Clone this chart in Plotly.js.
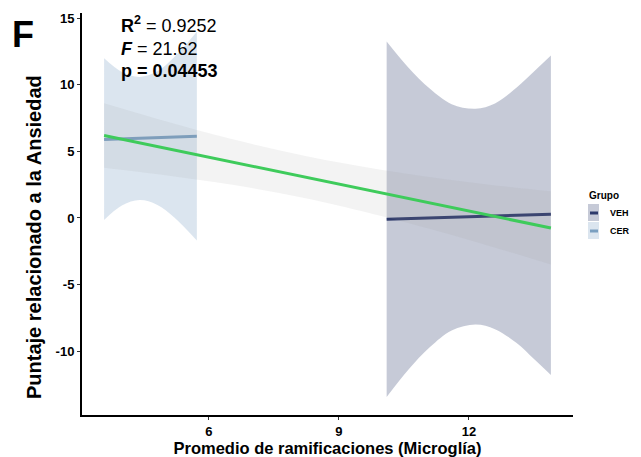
<!DOCTYPE html>
<html>
<head>
<meta charset="utf-8">
<script src="https://cdn.plot.ly/plotly-3.0.1.min.js"></script>
<style>html,body{margin:0;padding:0;background:#fff;}#chart{width:641px;height:457px;}</style>
</head>
<body>
<div id="chart"></div>
<script>
// ---- data ----
// overall fit (green) and its confidence band
const allX     = [3.58, 5.0, 6.5, 8.2, 10.0, 11.5, 13.0, 13.89];
const allFit   = [6.20, 5.24, 4.23, 3.09, 1.87, 0.86, -0.15, -0.75];
const allUpper = [8.62, 7.27, 5.95, 4.67, 3.60, 2.90, 2.31, 2.00];
const allLower = [3.78, 3.21, 2.51, 1.51, 0.14, -1.18, -2.61, -3.50];

// group CER
const cerX     = [3.58, 4.0, 4.4, 4.8, 5.2, 5.72];
const cerFit   = [5.90, 5.95, 6.00, 6.03, 6.06, 6.15];
const cerUpper = [12.0, 10.95, 10.6, 11.0, 12.1, 14.0];
const cerLower = [-0.15, 0.95, 1.35, 1.0, 0.03, -1.70];

// group VEH
const vehX     = [10.1, 10.6, 11.1, 11.6, 12.15, 12.6, 13.1, 13.5, 13.89];
const vehFit   = [-0.10, -0.05, 0.00, 0.05, 0.10, 0.15, 0.20, 0.24, 0.28];
const vehUpper = [13.25, 11.3, 9.7, 8.55, 8.2, 8.6, 9.8, 11.0, 12.2];
const vehLower = [-13.45, -11.4, -9.7, -8.45, -8.0, -8.35, -9.4, -10.6, -11.8];

const groups = ["VEH", "CER"];
const statLines = ["<b>R<sup>2</sup></b> = 0.9252", "<b><i>F</i></b> = 21.62", "<b>p = 0.04453</b>"];
const xTicks = [6, 9, 12];
const yTicks = [-10, -5, 0, 5, 10, 15];

// ---- styles ----
const FONT = "Liberation Sans, Arial, Helvetica, sans-serif";
const colVEH = "#2e3a6b", fillVEH = "rgba(46,58,106,0.27)";
const colCER = "#7a9fc0", fillCER = "rgba(122,160,195,0.27)";
const colAll = "#3ecb5b", fillAll = "rgba(153,153,153,0.12)";

function band(x, lo, hi, fill) {
  return [
    {x: x, y: lo, type: "scatter", mode: "lines", line: {width: 0, shape: "spline"}, hoverinfo: "skip", showlegend: false},
    {x: x, y: hi, type: "scatter", mode: "lines", line: {width: 0, shape: "spline"}, fill: "tonexty", fillcolor: fill, hoverinfo: "skip", showlegend: false}
  ];
}

const traces = [].concat(
  band(vehX, vehLower, vehUpper, fillVEH),
  band(cerX, cerLower, cerUpper, fillCER),
  [
    {x: vehX, y: vehFit, type: "scatter", mode: "lines", name: groups[0], line: {color: colVEH, width: 3}, showlegend: false},
    {x: cerX, y: cerFit, type: "scatter", mode: "lines", name: groups[1], line: {color: colCER, width: 3}, showlegend: false}
  ],
  band(allX, allLower, allUpper, fillAll),
  [{x: allX, y: allFit, type: "scatter", mode: "lines", name: "Total", line: {color: colAll, width: 3}, showlegend: false}]
);

// plot area geometry in px: left 82, right 573, top 13, bottom 415
const L = 82, R = 573, T = 13, B = 415;
const px = v => (v - L) / (R - L);
const py = v => (B - v) / (B - T);

const annotations = [
  {text: "<b>F</b>", xref: "paper", yref: "paper", x: px(23), y: py(35), xanchor: "center", yanchor: "middle", showarrow: false, font: {family: FONT, size: 36, color: "#000"}},
  {text: "<b>Puntaje relacionado a la Ansiedad</b>", xref: "paper", yref: "paper", x: px(34), y: py(237), textangle: -90, xanchor: "center", yanchor: "middle", showarrow: false, font: {family: FONT, size: 20, color: "#000"}},
  {text: statLines[0], xref: "paper", yref: "paper", x: px(119), y: py(25), xanchor: "left", yanchor: "middle", showarrow: false, font: {family: FONT, size: 18, color: "#000"}},
  {text: statLines[1], xref: "paper", yref: "paper", x: px(119), y: py(49), xanchor: "left", yanchor: "middle", showarrow: false, font: {family: FONT, size: 18, color: "#000"}},
  {text: statLines[2], xref: "paper", yref: "paper", x: px(119), y: py(71), xanchor: "left", yanchor: "middle", showarrow: false, font: {family: FONT, size: 18, color: "#000"}},
  // manual legend
  {text: "<b>Grupo</b>", xref: "paper", yref: "paper", x: px(587), y: py(195), xanchor: "left", yanchor: "middle", showarrow: false, font: {family: FONT, size: 10, color: "#000"}},
  {text: "<b>" + groups[0] + "</b>", xref: "paper", yref: "paper", x: px(608), y: py(213), xanchor: "left", yanchor: "middle", showarrow: false, font: {family: FONT, size: 9, color: "#000"}},
  {text: "<b>" + groups[1] + "</b>", xref: "paper", yref: "paper", x: px(608), y: py(231), xanchor: "left", yanchor: "middle", showarrow: false, font: {family: FONT, size: 9, color: "#000"}}
];

const shapes = [
  {type: "rect", xref: "paper", yref: "paper", x0: px(588), x1: px(599), y0: py(204), y1: py(221), fillcolor: fillVEH, line: {width: 0}, layer: "above"},
  {type: "line", xref: "paper", yref: "paper", x0: px(590), x1: px(598), y0: py(213), y1: py(213), line: {color: colVEH, width: 3}, layer: "above"},
  {type: "rect", xref: "paper", yref: "paper", x0: px(588), x1: px(599), y0: py(222), y1: py(239), fillcolor: fillCER, line: {width: 0}, layer: "above"},
  {type: "line", xref: "paper", yref: "paper", x0: px(590), x1: px(598), y0: py(231), y1: py(231), line: {color: colCER, width: 3}, layer: "above"}
];

const axisCommon = {
  showgrid: false, zeroline: false, showline: true, linecolor: "#000", linewidth: 2,
  ticks: "outside", ticklen: 3, tickwidth: 1, tickcolor: "#333",
  tickfont: {family: FONT, size: 13, color: "#000", weight: 700}
};

const layout = {
  width: 641, height: 457,
  margin: {l: L, r: 641 - R, t: T, b: 457 - B, pad: 0},
  paper_bgcolor: "#fff", plot_bgcolor: "#fff",
  showlegend: false,
  xaxis: Object.assign({}, axisCommon, {
    range: [3.07, 14.4], tickvals: xTicks, ticktext: xTicks.map(String),
    title: {text: "<b>Promedio de ramificaciones (Microglía)</b>", font: {family: FONT, size: 16.5, color: "#000"}, standoff: 0}
  }),
  yaxis: Object.assign({}, axisCommon, {
    range: [-14.8, 15.4], tickvals: yTicks, ticktext: yTicks.map(String)
  }),
  annotations: annotations,
  shapes: shapes
};

Plotly.newPlot("chart", traces, layout, {displayModeBar: false, staticPlot: true});
</script>
</body>
</html>
